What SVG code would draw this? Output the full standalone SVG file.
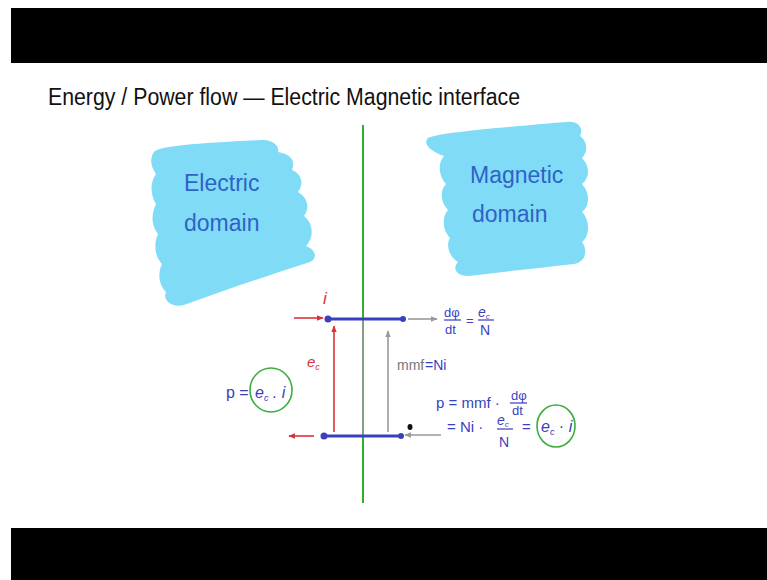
<svg xmlns="http://www.w3.org/2000/svg" width="767" height="580" viewBox="0 0 767 580">
<style>
.hand{font-family:"Liberation Sans","DejaVu Sans",sans-serif;}
.blue{fill:#3a3fc0;}
.red{fill:#d8323c;}
.dom{fill:#2f62c8;font-size:23px;}
.blob{fill:#80dcf6;}
.bl{stroke:#3a3fc0;stroke-width:3;fill:none;}
.rl{stroke:#d8323c;stroke-width:1.6;fill:none;}
.gl{stroke:#9a9a9a;stroke-width:1.6;fill:none;}
.dot{fill:#3a3fc0;}
.circ{stroke:#3cae3c;stroke-width:1.6;fill:none;}
</style>
<defs>
<marker id="ar" viewBox="0 0 10 10" refX="9" refY="5" markerWidth="7" markerHeight="7" orient="auto" markerUnits="userSpaceOnUse"><path d="M0,1 L10,5 L0,9 Z" fill="#d8323c"/></marker>
<marker id="ag" viewBox="0 0 10 10" refX="9" refY="5" markerWidth="7" markerHeight="7" orient="auto" markerUnits="userSpaceOnUse"><path d="M0,1 L10,5 L0,9 Z" fill="#9a9a9a"/></marker>
</defs>
<rect x="0" y="0" width="767" height="580" fill="#ffffff"/>
<rect x="11" y="8" width="756" height="55" fill="#000"/>
<rect x="11" y="528" width="756" height="52" fill="#000"/>
<text class="hand" x="48" y="105" font-size="23" fill="#111" textLength="472" lengthAdjust="spacingAndGlyphs">Energy / Power flow —  Electric Magnetic interface</text>
<line x1="363" y1="125" x2="363" y2="503" stroke="#2fae2f" stroke-width="2"/>
<g id="electric-domain">
<path class="blob" d="M154,152 C158,146 200,143 262,140 C272,139 280,146 278,152 C290,154 296,160 292,170 C302,174 304,184 298,192 C308,198 310,208 304,216 C314,224 314,238 306,246 C316,250 318,258 310,262 C270,275 230,288 184,305 C172,308 162,300 166,292 C158,284 158,272 162,264 C154,256 154,242 158,234 C150,224 152,212 156,204 C150,194 150,182 156,174 C150,166 150,158 154,152 Z"/>
<text class="hand dom" x="184" y="191">Electric</text>
<text class="hand dom" x="184" y="231">domain</text>
</g>
<g id="magnetic-domain">
<path class="blob" d="M428,138 C440,132 520,126 566,122 C578,120 584,128 580,136 C588,142 588,152 582,158 C590,166 590,178 582,184 C590,192 590,206 582,212 C590,220 590,236 582,242 C588,250 586,262 574,264 C540,268 500,272 468,276 C456,276 452,268 458,262 C448,256 446,244 450,238 C442,230 442,216 448,210 C440,202 440,190 446,184 C438,176 438,162 444,156 C432,152 422,144 428,138 Z"/>
<text class="hand dom" x="470" y="183">Magnetic</text>
<text class="hand dom" x="472" y="222">domain</text>
</g>
<g id="connectors">
<line class="gl" x1="363" y1="319" x2="363" y2="436"/>
<line class="bl" x1="328" y1="319" x2="403" y2="319"/>
<line class="bl" x1="324" y1="436" x2="401" y2="436"/>
<circle class="dot" cx="328" cy="319" r="3.5"/>
<circle class="dot" cx="403" cy="319" r="3"/>
<circle class="dot" cx="324" cy="436" r="3.5"/>
<circle class="dot" cx="401" cy="436" r="3"/>
<line class="rl" x1="294" y1="318" x2="323" y2="318" marker-end="url(#ar)"/>
<line class="rl" x1="334" y1="432" x2="334" y2="326" marker-end="url(#ar)"/>
<line class="rl" x1="314" y1="436" x2="289" y2="436" marker-end="url(#ar)"/>
<line class="gl" x1="408" y1="319" x2="437" y2="319" marker-end="url(#ag)"/>
<line class="gl" x1="388" y1="432" x2="388" y2="331" marker-end="url(#ag)"/>
<line class="gl" x1="441" y1="435" x2="405" y2="435" marker-end="url(#ag)"/>
<ellipse cx="410" cy="427" rx="2.5" ry="3" fill="#111"/>
</g>
<g id="labels">
<text class="hand red" x="323" y="304" font-size="17" font-style="italic">i</text>
<text class="hand red" x="307" y="367" font-size="15" font-style="italic">e<tspan font-size="9" dy="3">c</tspan></text>
<text class="hand blue" x="226" y="398" font-size="16">p =</text>
<text class="hand blue" x="255" y="398" font-size="16" font-style="italic">e<tspan font-size="9" dy="3">c</tspan><tspan dy="-3"> . i</tspan></text>
<ellipse class="circ" cx="271" cy="390" rx="21" ry="22"/>
<text class="hand blue" x="444" y="317" font-size="13">dφ</text>
<line x1="444" y1="320" x2="461" y2="320" stroke="#3a3fc0" stroke-width="1.2"/>
<text class="hand blue" x="445" y="334" font-size="13">dt</text>
<text class="hand blue" x="466" y="325" font-size="13">=</text>
<text class="hand blue" x="478" y="317" font-size="14" font-style="italic">e<tspan font-size="8" dy="2">c</tspan></text>
<line x1="478" y1="320" x2="494" y2="320" stroke="#3a3fc0" stroke-width="1.2"/>
<text class="hand blue" x="480" y="335" font-size="14">N</text>
<text class="hand" x="397" y="370" font-size="14" fill="#777">mmf</text>
<text class="hand blue" x="425" y="370" font-size="14">=Ni</text>
<text class="hand blue" x="436" y="408" font-size="15">p =  mmf · </text>
<text class="hand blue" x="511" y="400" font-size="13">dφ</text>
<line x1="510" y1="403" x2="527" y2="403" stroke="#3a3fc0" stroke-width="1.2"/>
<text class="hand blue" x="512" y="415" font-size="13">dt</text>
<text class="hand blue" x="447" y="432" font-size="15">=  Ni · </text>
<text class="hand blue" x="497" y="425" font-size="14" font-style="italic">e<tspan font-size="8" dy="2">c</tspan></text>
<line x1="497" y1="429" x2="513" y2="429" stroke="#3a3fc0" stroke-width="1.2"/>
<text class="hand blue" x="499" y="447" font-size="14">N</text>
<text class="hand blue" x="522" y="432" font-size="15">=</text>
<text class="hand blue" x="541" y="432" font-size="16" font-style="italic">e<tspan font-size="9" dy="3">c</tspan><tspan dy="-3"> · i</tspan></text>
<ellipse class="circ" cx="556" cy="426" rx="19" ry="21"/>
</g>
</svg>
